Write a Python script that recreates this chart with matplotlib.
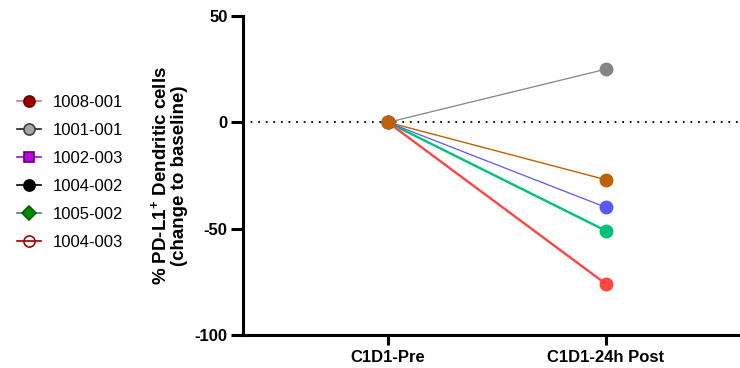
import matplotlib
matplotlib.use("Agg")
import matplotlib.pyplot as plt
from matplotlib.lines import Line2D

plt.rcParams['font.family'] = ['Liberation Sans', 'DejaVu Sans']
plt.rcParams['mathtext.fontset'] = 'custom'
plt.rcParams['mathtext.rm'] = 'Liberation Sans:bold'
plt.rcParams['mathtext.bf'] = 'Liberation Sans:bold'
plt.rcParams['axes.unicode_minus'] = False

# Timepoints and per-patient change from baseline (%)
timepoints = ['C1D1-Pre', 'C1D1-24h Post']
pre_change = [0, 0, 0, 0, 0]
post_change = [25, -76, -51, -40, -27]
line_colors = ['#858585', '#FF4444', '#00C07A', '#5858FF', '#C06000']
line_widths = [0.9, 1.7, 1.7, 0.9, 1.0]

# Legend entries
legend_ids = ['1008-001', '1001-001', '1002-003', '1004-002', '1005-002', '1004-003']
legend_markers = ['o', 'o', 's', 'o', 'D', 'o']
legend_sizes = [8, 8, 7.5, 8, 7, 8]
legend_face = ['#A00000', '#A8A8A8', '#C000E0', '#000000', '#008A00', 'none']
legend_edge = ['#6A0000', '#404040', '#5A0070', '#000000', '#006000', '#B00000']
legend_line = ['#E07070', '#202020', '#B000E0', '#000000', '#707070', '#900000']

fig = plt.figure(figsize=(7.4, 3.68), dpi=100)
ax = fig.add_axes([243 / 740, 33 / 368, 497 / 740, 319 / 368])

xs = list(range(len(timepoints)))
for pre, post, c, lw in zip(pre_change, post_change, line_colors, line_widths):
    ax.plot(xs, [pre, post], color=c, lw=lw, marker='o', markersize=10,
            markeredgewidth=0, zorder=3, clip_on=False)

ax.axhline(0, color='black', lw=1.3, ls=(0, (1, 3.2)), zorder=1)

ax.set_xlim(-0.665, 1.615)
ax.set_ylim(-100, 50)
ax.set_yticks([-100, -50, 0, 50])
ax.set_xticks(xs)
ax.set_xticklabels(timepoints, fontweight='bold', fontsize=12)
for lbl in ax.get_yticklabels():
    lbl.set_fontweight('bold')
    lbl.set_fontsize(12)

for side in ['top', 'right']:
    ax.spines[side].set_visible(False)
for side in ['left', 'bottom']:
    ax.spines[side].set_linewidth(2.2)
ax.tick_params(axis='y', length=9, width=2.2, pad=2)
ax.tick_params(axis='x', length=7, width=2.2, pad=4)

ax.set_ylabel('% PD-L1$^{+}$ Dendritic cells\n(change to baseline)',
              fontweight='bold', fontsize=13.5, labelpad=5, linespacing=1.0)

handles = [Line2D([0], [0], color=lc, lw=1.2, marker=m, markersize=ms,
                  markerfacecolor=fc, markeredgecolor=ec, markeredgewidth=1.2)
           for m, ms, fc, ec, lc in zip(legend_markers, legend_sizes, legend_face,
                                         legend_edge, legend_line)]
fig.legend(handles, legend_ids, loc='upper left', bbox_to_anchor=(0.003, 0.782),
           frameon=False, fontsize=12, handlelength=1.45, handletextpad=0.7,
           labelspacing=0.78)

fig.savefig('out.png', dpi=100)
